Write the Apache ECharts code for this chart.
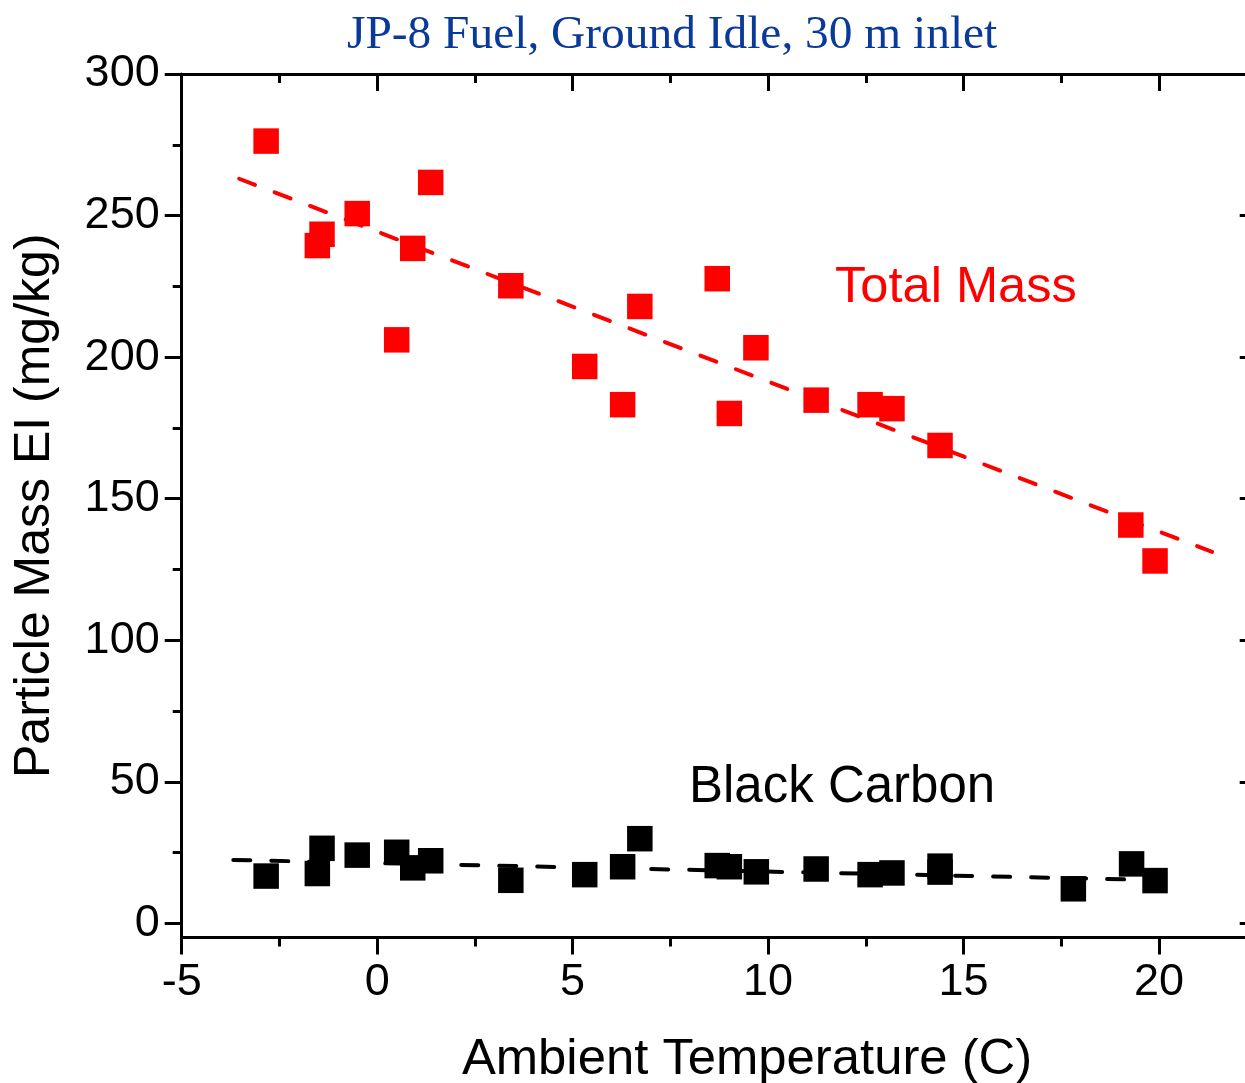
<!DOCTYPE html>
<html><head><meta charset="utf-8">
<script src="https://cdn.jsdelivr.net/npm/echarts@6/dist/echarts.min.js"></script>
<style>html,body{margin:0;padding:0;background:#fff}#c{width:1245px;height:1083px}</style>
</head><body><div id="c"></div>
<script>
const titleText = 'JP-8 Fuel, Ground Idle, 30 m inlet';
const xAxisTitle = 'Ambient Temperature (C)';
const yAxisTitle = 'Particle Mass EI (mg/kg)';
const totalLabel = 'Total Mass';
const bcLabel = 'Black Carbon';

// Total mass points
const totalX = [-2.84, -1.41, -1.53, -0.51, 1.37, 0.91, 0.50, 3.42, 6.72, 5.31, 6.28, 8.70, 9.69, 9.01, 11.23, 12.61, 13.17, 14.40, 19.28, 19.90];
const totalY = [276.3, 243.4, 239.4, 250.7, 261.7, 238.4, 206.1, 225.2, 217.9, 196.7, 183.2, 227.7, 203.3, 180.1, 184.8, 183.2, 181.8, 168.8, 140.7, 128.0];
// Black carbon points
const bcX = [-2.84, -1.53, -1.41, -0.51, 0.50, 0.91, 1.37, 3.42, 5.31, 6.28, 6.72, 8.70, 9.01, 9.70, 11.23, 12.61, 13.17, 14.40, 14.40, 17.81, 19.30, 19.90];
const bcY = [16.7, 17.6, 26.5, 24.1, 25.1, 19.6, 22.1, 15.2, 17.2, 20.0, 29.9, 20.4, 20.0, 18.2, 19.2, 17.2, 17.8, 20.2, 18.1, 12.2, 21.0, 15.1];
// Linear fit lines (end points)
const totalFitX = [-3.53, 21.36];
const totalFitY = [263.0, 131.2];
const bcFitX = [-3.68, 20.24];
const bcFitY = [22.4, 15.2];

// Tick values
const xMajorTicks = [-5, 0, 5, 10, 15, 20];
const yMajorTicks = [0, 50, 100, 150, 200, 250, 300];
const yMinorTicks = [25, 75, 125, 175, 225, 275];

const zip = (a, b) => a.map((v, i) => [v, b[i]]);
const FONT = 'Liberation Sans';
const black = '#000';

const chart = echarts.init(document.getElementById('c'), null, {renderer: 'canvas'});

const baseX = {
  type: 'value', min: -5, max: 25, interval: 5,
  splitLine: {show: false},
  axisLine: {show: true, onZero: false, lineStyle: {color: black, width: 3}},
  axisTick: {show: true, length: 17, lineStyle: {color: black, width: 3}},
  minorTick: {show: true, splitNumber: 2, length: 9, lineStyle: {color: black, width: 3}},
};
const baseY = {
  type: 'value', min: -5, max: 300,
  splitLine: {show: false},
  axisLine: {show: false, onZero: false},
  axisLabel: {show: false},
};

chart.setOption({
  animation: false,
  backgroundColor: '#fff',
  grid: {left: 181.7, top: 74, width: 1172.7, height: 863.5, containLabel: false, outerBoundsMode: 'none'},
  xAxis: [
    Object.assign({}, baseX, {
      position: 'bottom',
      axisTick: Object.assign({}, baseX.axisTick, {inside: false}),
      axisLabel: {
        show: true, fontSize: 45, fontFamily: FONT, color: black, margin: 23,
        formatter: v => (xMajorTicks.indexOf(v) >= 0 ? String(v) : '')
      },
      name: xAxisTitle, nameLocation: 'middle', nameGap: 97,
      nameTextStyle: {fontSize: 50.8, fontFamily: FONT, color: black, padding: [0, 42, 0, 0]}
    }),
    Object.assign({}, baseX, {
      position: 'top',
      axisTick: Object.assign({}, baseX.axisTick, {inside: true}),
      axisLabel: {show: false}
    })
  ],
  yAxis: [
    Object.assign({}, baseY, {
      position: 'left',
      axisLine: {show: true, onZero: false, lineStyle: {color: black, width: 3}},
      axisTick: {show: true, inside: false, length: 17, customValues: yMajorTicks, lineStyle: {color: black, width: 3}},
      axisLabel: {show: true, customValues: yMajorTicks, fontSize: 45, fontFamily: FONT, color: black, margin: 22},
      name: yAxisTitle, nameLocation: 'middle', nameGap: 121,
      nameTextStyle: {fontSize: 50, fontFamily: FONT, color: black}
    }),
    Object.assign({}, baseY, {
      position: 'left',
      axisTick: {show: true, inside: false, length: 9, customValues: yMinorTicks, lineStyle: {color: black, width: 3}}
    }),
    Object.assign({}, baseY, {
      position: 'right', offset: -97.7,
      axisTick: {show: true, inside: true, length: 17, customValues: yMajorTicks, lineStyle: {color: black, width: 3}}
    })
  ],
  graphic: [
    {type: 'text', left: 347, top: 12, style: {text: titleText, font: '47.4px "Liberation Serif"', fill: '#0a3a99'}},
    {type: 'text', left: 835, top: 263, style: {text: totalLabel, font: '50.6px "Liberation Sans"', fill: '#ff0000'}},
    {type: 'text', left: 689, top: 762, style: {text: bcLabel, font: '51px "Liberation Sans"', fill: '#000000'}}
  ],
  series: [
    {type: 'line', xAxisIndex: 0, yAxisIndex: 0, data: zip(totalFitX, totalFitY), symbol: 'none', silent: true,
     lineStyle: {color: '#ff0000', width: 4, type: [17, 21], cap: 'round'}, z: 2},
    {type: 'line', xAxisIndex: 0, yAxisIndex: 0, data: zip(bcFitX, bcFitY), symbol: 'none', silent: true,
     lineStyle: {color: '#000000', width: 4, type: [17, 21], cap: 'round'}, z: 2},
    {type: 'scatter', xAxisIndex: 0, yAxisIndex: 0, data: zip(totalX, totalY), symbol: 'rect', symbolSize: 25.5,
     itemStyle: {color: '#ff0000', opacity: 1}, z: 3},
    {type: 'scatter', xAxisIndex: 0, yAxisIndex: 0, data: zip(bcX, bcY), symbol: 'rect', symbolSize: 25.5,
     itemStyle: {color: '#000000', opacity: 1}, z: 3}
  ]
});
</script></body></html>
